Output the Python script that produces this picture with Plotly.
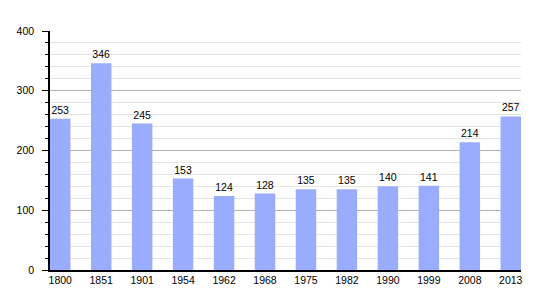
import plotly.graph_objects as go

years = ["1800", "1851", "1901", "1954", "1962", "1968", "1975", "1982", "1990", "1999", "2008", "2013"]
population = [253, 346, 245, 153, 124, 128, 135, 135, 140, 141, 214, 257]

fig = go.Figure(go.Bar(
    x=years, y=population,
    text=[str(v) for v in population],
    textposition="outside",
    textfont=dict(family="Liberation Sans, Arial, sans-serif", size=10.5, color="black"),
    cliponaxis=False,
    marker=dict(color="#9aacfe", line=dict(width=0)),
    width=0.5,
))

fig.update_layout(
    width=550, height=300,
    margin=dict(l=50, r=29, t=31, b=30),
    paper_bgcolor="white", plot_bgcolor="white",
    showlegend=False,
    font=dict(family="Liberation Sans, Arial, sans-serif", size=10.5, color="black"),
)
fig.update_xaxes(
    type="category", range=[-0.25, 11.25],
    showline=True, linecolor="black", linewidth=1.5,
    ticks="", showgrid=False,
    tickfont=dict(size=10.5),
)
fig.update_yaxes(
    range=[0, 400], dtick=100,
    showline=True, linecolor="black", linewidth=1.5,
    ticks="outside", ticklen=6, tickcolor="black", tickwidth=1,
    showgrid=True, gridcolor="#b4b4b4", gridwidth=1,
    zeroline=False,
    ticklabelstandoff=6,
    minor=dict(dtick=20, showgrid=True, gridcolor="#e4e4e4", gridwidth=1,
               ticks="outside", ticklen=3, tickcolor="black"),
    tickfont=dict(size=10.5),
)

fig.write_html("out.html")
